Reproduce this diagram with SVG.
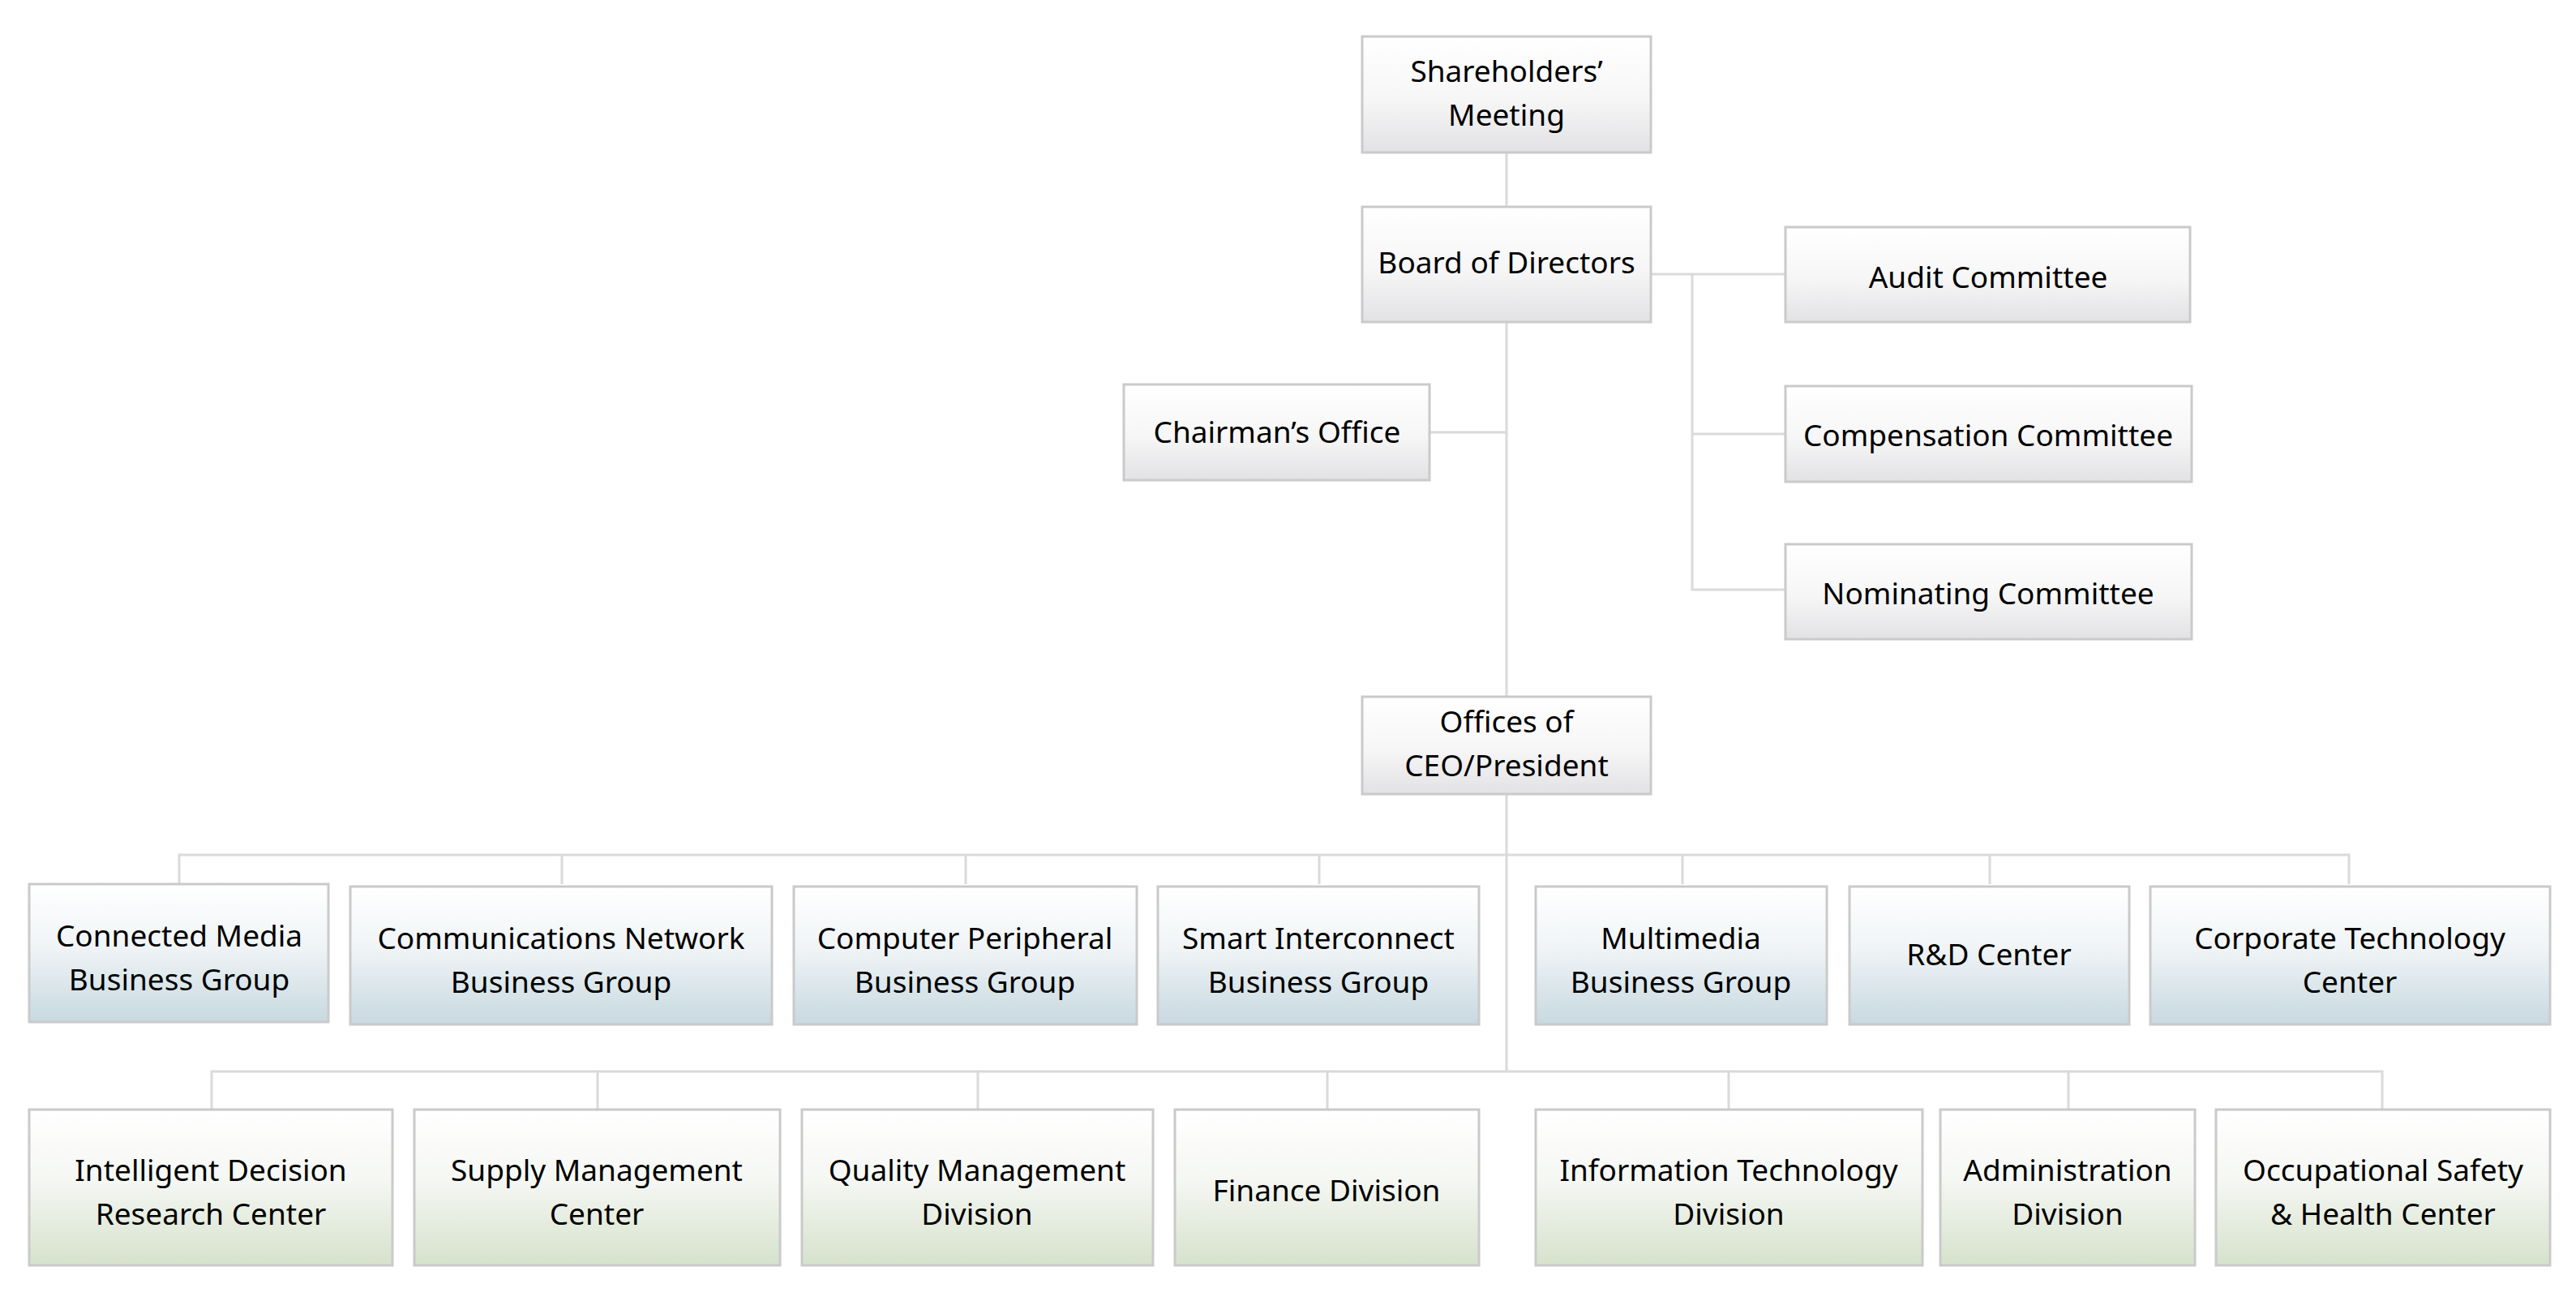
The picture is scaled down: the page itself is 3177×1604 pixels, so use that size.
<svg xmlns="http://www.w3.org/2000/svg" width="3177" height="1604" viewBox="0 0 3177 1604">
<defs>
<linearGradient id="gg" x1="0" y1="0" x2="0" y2="1"><stop offset="0" stop-color="#ffffff"/><stop offset="0.55" stop-color="#f6f6f7"/><stop offset="1" stop-color="#e2e1e3"/></linearGradient>
<linearGradient id="gb" x1="0" y1="0" x2="0" y2="1"><stop offset="0" stop-color="#ffffff"/><stop offset="0.45" stop-color="#f0f4f6"/><stop offset="1" stop-color="#c7d9e0"/></linearGradient>
<linearGradient id="gn" x1="0" y1="0" x2="0" y2="1"><stop offset="0" stop-color="#ffffff"/><stop offset="0.45" stop-color="#f5f7f3"/><stop offset="1" stop-color="#d6e2cc"/></linearGradient>
</defs>
<style>
.g{fill:url(#gg);stroke:#cacaca;stroke-width:3}
.b{fill:url(#gb);stroke:#cacaca;stroke-width:3}
.n{fill:url(#gn);stroke:#cacaca;stroke-width:3}
text{font-family:"Noto Sans","Open Sans","Liberation Sans",sans-serif;font-size:37px;fill:#000;text-anchor:middle;dominant-baseline:central}
.c{fill:none;stroke:#dadada;stroke-width:3}
</style>
<rect width="3177" height="1604" fill="#fff"/>
<g id="connectors" class="c">
<path d="M1858 188V255M1858 397V1321M2036 338H2202M2087 338V727H2202M2087 535H2202M1763 533H1858"/>
<path d="M221 1090V1054H2897V1090M693 1054V1090M1191 1054V1090M1627 1054V1090M2075 1054V1090M2454 1054V1090"/>
<path d="M261 1368V1321H2938V1368M737 1321V1368M1206 1321V1368M1637 1321V1368M2132 1321V1368M2551 1321V1368"/>
</g>
<g id="shareholders"><rect class="g" x="1680" y="45" width="356" height="143"/><text x="1858" y="86">Shareholders’</text><text x="1858" y="140">Meeting</text></g>
<g id="board"><rect class="g" x="1680" y="255" width="356" height="142"/><text x="1858" y="322">Board of Directors</text></g>
<g id="audit"><rect class="g" x="2202" y="280" width="499" height="117"/><text x="2452" y="340">Audit Committee</text></g>
<g id="compensation"><rect class="g" x="2202" y="476" width="501" height="118"/><text x="2452" y="535">Compensation Committee</text></g>
<g id="nominating"><rect class="g" x="2202" y="671" width="501" height="117"/><text x="2452" y="730">Nominating Committee</text></g>
<g id="chairman"><rect class="g" x="1386" y="474" width="377" height="118"/><text x="1575" y="531">Chairman’s Office</text></g>
<g id="ceo"><rect class="g" x="1680" y="859" width="356" height="120"/><text x="1858" y="888">Offices of</text><text x="1858" y="942">CEO/President</text></g>
<g id="cm"><rect class="b" x="36" y="1090" width="369" height="170"/><text x="221" y="1152">Connected Media</text><text x="221" y="1206">Business Group</text></g>
<g id="cn"><rect class="b" x="432" y="1093" width="520" height="170"/><text x="692" y="1155">Communications Network</text><text x="692" y="1209">Business Group</text></g>
<g id="cp"><rect class="b" x="979" y="1093" width="423" height="170"/><text x="1190" y="1155">Computer Peripheral</text><text x="1190" y="1209">Business Group</text></g>
<g id="si"><rect class="b" x="1428" y="1093" width="396" height="170"/><text x="1626" y="1155">Smart Interconnect</text><text x="1626" y="1209">Business Group</text></g>
<g id="mm"><rect class="b" x="1894" y="1093" width="359" height="170"/><text x="2073" y="1155">Multimedia</text><text x="2073" y="1209">Business Group</text></g>
<g id="rd"><rect class="b" x="2281" y="1093" width="345" height="170"/><text x="2453" y="1175">R&amp;D Center</text></g>
<g id="ct"><rect class="b" x="2652" y="1093" width="493" height="170"/><text x="2898" y="1155">Corporate Technology</text><text x="2898" y="1209">Center</text></g>
<g id="id"><rect class="n" x="36" y="1368" width="448" height="192"/><text x="260" y="1441">Intelligent Decision</text><text x="260" y="1495">Research Center</text></g>
<g id="sm"><rect class="n" x="511" y="1368" width="451" height="192"/><text x="736" y="1441">Supply Management</text><text x="736" y="1495">Center</text></g>
<g id="qm"><rect class="n" x="989" y="1368" width="433" height="192"/><text x="1205" y="1441">Quality Management</text><text x="1205" y="1495">Division</text></g>
<g id="fd"><rect class="n" x="1449" y="1368" width="375" height="192"/><text x="1636" y="1466">Finance Division</text></g>
<g id="it"><rect class="n" x="1894" y="1368" width="477" height="192"/><text x="2132" y="1441">Information Technology</text><text x="2132" y="1495">Division</text></g>
<g id="ad"><rect class="n" x="2393" y="1368" width="314" height="192"/><text x="2550" y="1441">Administration</text><text x="2550" y="1495">Division</text></g>
<g id="os"><rect class="n" x="2733" y="1368" width="412" height="192"/><text x="2939" y="1441">Occupational Safety</text><text x="2939" y="1495">&amp; Health Center</text></g>
</svg>
